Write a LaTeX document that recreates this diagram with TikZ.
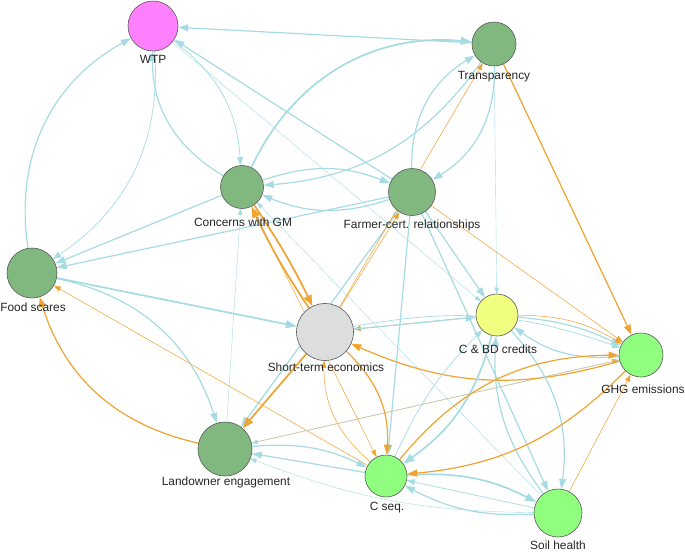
\documentclass[tikz,border=0pt]{standalone}
\usepackage{fontspec}
\setmainfont{Liberation Sans}
\usetikzlibrary{arrows.meta}
\definecolor{eb}{RGB}{166,219,228}
\definecolor{eo}{RGB}{240,163,48}
\definecolor{dg}{RGB}{128,184,128}
\definecolor{mg}{RGB}{255,128,255}
\definecolor{gy}{RGB}{220,222,222}
\definecolor{yl}{RGB}{240,255,128}
\definecolor{lg}{RGB}{144,255,128}
\pgfdeclarelayer{edgelayer}
\pgfsetlayers{edgelayer,main}
\begin{document}
\begin{tikzpicture}[x=1pt,y=-1pt,
 vnode/.style={circle,draw=black!65,line width=0.6pt,inner sep=0pt},
 lab/.style={font=\fontsize{11.9}{13}\selectfont,text=black!85,inner sep=0pt},
 vl/.style={bend left=#1},
 b0/.style={draw=eb,line width=0.4pt,-{Triangle[length=6pt,width=4.5pt]}},
 b1/.style={draw=eb,line width=0.7pt,-{Triangle[length=8pt,width=6pt]}},
 b2/.style={draw=eb,line width=1.2pt,-{Triangle[length=10pt,width=7pt]}},
 b3/.style={draw=eb,line width=1.7pt,-{Triangle[length=11pt,width=8pt]}},
 o1/.style={draw=eo,line width=0.5pt,-{Triangle[length=7pt,width=5pt]}},
 o2/.style={draw=eo,line width=1.2pt,-{Triangle[length=10pt,width=7pt]}},
 o3/.style={draw=eo,line width=1.7pt,-{Triangle[length=11pt,width=8pt]}}]
\useasboundingbox (0,0) rectangle (685,552);
% nodes
\node[vnode,fill=mg,minimum size=50pt] (wtp) at (153,26) {};
\node[vnode,fill=dg,minimum size=44pt] (tra) at (494,44) {};
\node[vnode,fill=dg,minimum size=43pt] (con) at (242,187) {};
\node[vnode,fill=dg,minimum size=47pt] (far) at (412,192) {};
\node[vnode,fill=dg,minimum size=50pt] (foo) at (32,273) {};
\node[vnode,fill=gy,minimum size=57pt] (ste) at (325,332) {};
\node[vnode,fill=yl,minimum size=42pt] (cbd) at (497,315) {};
\node[vnode,fill=lg,minimum size=44pt] (ghg) at (641,355) {};
\node[vnode,fill=dg,minimum size=54pt] (lan) at (225,449) {};
\node[vnode,fill=lg,minimum size=42pt] (csq) at (386,476) {};
\node[vnode,fill=lg,minimum size=48pt] (soi) at (558,513) {};
% labels
\node[lab] (lwtp) at (153,59) {WTP};
\node[lab] (ltra) at (494,77) {Transparency};
\node[lab] (lcon) at (243,222) {Concerns with GM};
\node[lab] (lfar) at (412,225) {Farmer-cert. relationships};
\node[lab] (lfoo) at (33,307) {Food scares};
\node[lab] (lste) at (326,367) {Short-term economics};
\node[lab] (lcbd) at (498,349) {C \& BD credits};
\node[lab] (lghg) at (643,389) {GHG emissions};
\node[lab] (llan) at (226,482) {Landowner engagement};
\node[lab] (lcsq) at (387,508) {C seq.};
\node[lab] (lsoi) at (558,545.5) {Soil health};
\begin{pgfonlayer}{edgelayer}
\fill[white] (0,0) rectangle (685,552);
\draw[b2] (tra) -- (wtp);
\draw[b2] (foo) to[vl=35] (wtp);
\draw[b2] (far) -- (wtp);
\draw[b2] (con) to[vl=30] (wtp);
\draw[b1] (wtp) to[vl=30] (foo);
\draw[b1] (wtp) to[vl=25] (con);
\draw[b0] (wtp) -- (cbd);
\draw[b3] (con) to[vl=35] (tra);
\draw[b2] (tra) to[vl=25] (con);
\draw[b2] (far) to[vl=30] (tra);
\draw[b2] (tra) to[vl=30] (far);
\draw[b0] (tra) -- (cbd);
\draw[o2] (tra) -- (ghg);
\draw[b2] (con) to[vl=20] (far);
\draw[b2] (far) to[vl=20] (con);
\draw[b2] (con) -- (foo);
\draw[b2] (far) -- (foo);
\draw[o3] (con) to[vl=4] (ste);
\draw[o3] (ste) to[vl=4] (con);
\draw[o1] (con) -- (csq);
\draw[b0] (lan) -- (con);
\draw[b0] (soi) -- (con);
\draw[o1] (far) -- (ghg);
\draw[b2] (far) -- (cbd);
\draw[b2] (far) -- (csq);
\draw[b2] (far) -- (soi);
\draw[b2] (far) -- (lan);
\draw[b0] (lan) -- (far);
\draw[o1] (ste) -- (tra);
\draw[o1] (ste) -- (far);
\draw[b3] (foo) -- (ste);
\draw[b2] (foo) to[vl=30] (lan);
\draw[o2] (lan) to[vl=30] (foo);
\draw[o1] (csq) -- (foo);
\draw[o3] (ste) -- (lan);
\draw[o1] (lan) -- (ghg);
\draw[b0] (ghg) -- (lan);
\draw[b2] (lan) to[vl=15] (csq);
\draw[b2] (csq) -- (lan);
\draw[b0] (soi) to[vl=10] (lan);
\draw[o2] (ste) to[vl=25] (csq);
\draw[o1] (csq) to[vl=25] (ste);
\draw[o1] (cbd) -- (ste);
\draw[b2] (ste) -- (cbd);
\draw[o2] (ghg) to[vl=20] (ste);
\draw[b1] (ste) to[vl=15] (ghg);
\draw[b2] (cbd) to[vl=10] (ghg);
\draw[b2] (ghg) to[vl=20] (cbd);
\draw[o1] (cbd) to[vl=15] (ghg);
\draw[b3] (cbd) to[vl=20] (csq);
\draw[b1] (csq) to[vl=10] (cbd);
\draw[b2] (soi) to[vl=20] (cbd);
\draw[b2] (cbd) to[vl=25] (soi);
\draw[b3] (csq) to[vl=15] (soi);
\draw[b2] (soi) to[vl=15] (csq);
\draw[b1] (soi) -- (csq);
\draw[o2] (csq) to[vl=25] (ghg);
\draw[o2] (ghg) to[vl=20] (csq);
\draw[o1] (soi) -- (ghg);
\end{pgfonlayer}
\end{tikzpicture}
\end{document}
